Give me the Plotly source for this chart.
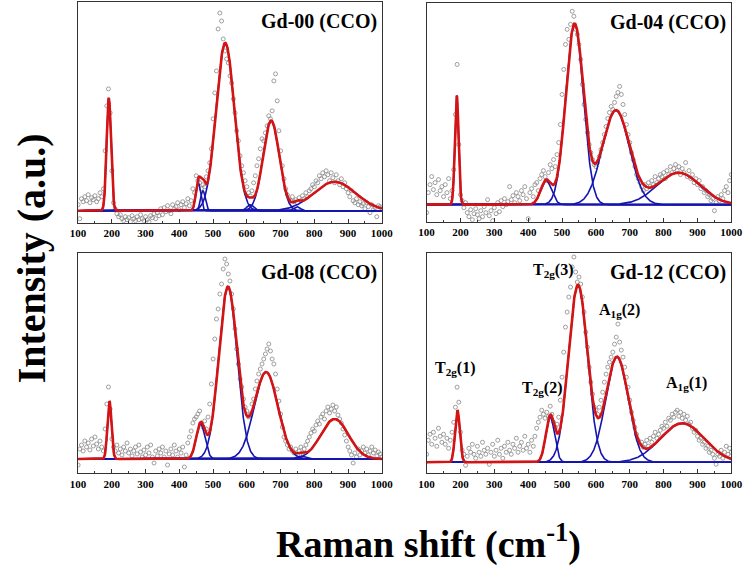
import numpy as np
import plotly.graph_objects as go

# ---------------- data ----------------
shift_start, shift_step = 100, 5          # Raman shift sampling of measured points (cm-1)

gd00_obs = [6, -8, 12, 9, 14, 10, 16, 8, 13, 11,
            15, 9, 12, 18, 14, 22, 60, 105, 122, 98,
            40, 8, 2, -3, -6, -4, -8, -10, -6, -9,
            -7, -11, -5, -8, -10, -6, -9, -4, -8, -10,
            -6, -9, -11, -5, -7, -3, -8, -2, -5, 2,
            -4, 3, -1, 5, 0, -3, 6, 2, 4, 8,
            1, 6, 9, 3, 7, 12, 5, 10, 22, 18,
            35, 30, 28, 22, 26, 24, 34, 40, 48, 62,
            92, 118, 140, 182, 198, 190, 172, 160, 152, 148,
            135, 128, 112, 98, 80, 70, 55, 45, 38, 30,
            24, 18, 15, 20, 28, 35, 45, 52, 62, 72,
            70, 78, 85, 95, 92, 100, 130, 137, 110, 80,
            60, 45, 32, 22, 16, 12, 10, 14, 9, 11,
            8, 13, 10, 15, 12, 18, 14, 20, 22, 26,
            24, 30, 28, 35, 32, 38, 34, 40, 36, 30,
            38, 33, 28, 36, 30, 26, 32, 24, 28, 22,
            18, 14, 20, 10, 8, 12, 6, 9, 5, 7,
            2, 8, 4, -2, 6, 1, 3, -6, 5, 4,
            2]

gd04_obs = [-8, 12, 20, 28, 15, 22, 10, 25, 14, 18,
            8, 20, 12, 26, 6, 14, 35, 90, 140, 60,
            10, 4, -3, 2, -8, -12, -5, -15, -9, -4,
            -10, -14, -6, -12, -2, -8, 5, -11, -6, -16,
            -3, -9, 2, -7, 4, -2, 6, 0, 3, 18,
            5, 9, 2, 12, 8, 4, 14, 10, 18, 6,
            -14, 12, 16, 8, 20, 22, 14, 26, 30, 34,
            28, 24, 32, 40, 36, 45, 38, 50, 62, 80,
            110, 135, 160, 175, 165, 180, 193, 188, 175, 170,
            160, 145, 120, 100, 85, 72, 60, 52, 45, 40,
            38, 42, 48, 55, 62, 70, 78, 86, 92, 98,
            95, 102, 108, 112, 118, 110, 100, 90, 80, 70,
            62, 52, 45, 38, 30, 26, 22, 18, 14, 20,
            16, 22, 18, 24, 20, 28, 22, 26, 30, 28,
            32, 26, 34, 30, 38, 32, 36, 40, 34, 38,
            30, 36, 32, 42, 28, 34, 26, 30, 22, 26,
            20, 24, 16, 18, 12, 14, 8, 10, 4, 6,
            -6, 2, 8, 4, 10, 6, 14, 18, 12, 24,
            30]

gd08_obs = [-6, 10, 14, 8, 18, 12, 16, 9, 20, 13,
            22, 15, 10, 18, 12, 8, 30, 55, 72, 50,
            20, 12, 8, 14, 6, 10, 4, 12, 8, 16,
            6, 10, 3, 8, 12, 5, 14, 7, 2, 9,
            4, 12, 6, 14, 2, -4, 8, 3, 10, 6,
            12, 2, 8, -6, 5, 10, 4, 14, 8, 2,
            10, 6, 12, -8, 4, 16, 22, 28, 36, 40,
            42, 45, 48, 36, 32, 38, 30, 42, 55, 75,
            100, 120, 140, 150, 165, 175, 190, 200, 195, 185,
            178, 165, 150, 130, 110, 95, 80, 72, 60, 52,
            48, 42, 45, 55, 60, 70, 78, 85, 90, 95,
            100, 105, 110, 115, 108, 100, 95, 85, 70, 58,
            45, 32, 22, 18, 14, 10, 12, 8, 6, 10,
            4, 8, 12, 6, 10, 14, 18, 22, 26, 30,
            28, 34, 38, 35, 42, 45, 40, 48, 52, 46,
            50, 54, 48, 52, 44, 40, 36, 30, 24, 18,
            12, 8, 4, -4, 6, 2, 10, 4, 8, 12,
            6, 10, 4, 8, 12, 6, 9, 3, 7, 5,
            2]

gd12_obs = [8, 22, 28, 18, 30, 24, 16, 34, 26, 20,
            28, 18, 24, 14, 22, 30, 40, 55, 75, 60,
            30, 12, 8, -3, 6, 14, 10, 18, 8, 4,
            16, 10, 6, 20, 12, 8, 14, -2, 10, 18,
            6, 12, 22, 8, 14, 4, 16, 10, 20, 12,
            8, 18, 14, 24, 10, 16, 20, 12, 26, 14,
            18, 10, 22, 16, 26, 34, 40, 45, 52, 48,
            44, 50, 46, 56, 48, 40, 35, 38, 45, 62,
            85, 110, 135, 150, 165, 175, 195, 205, 190, 180,
            185, 178, 165, 150, 130, 115, 95, 80, 68, 55,
            52, 48, 55, 62, 70, 80, 88, 95, 100, 105,
            110, 118, 125, 138, 120, 112, 105, 95, 85, 75,
            62, 50, 42, 35, 28, 22, 18, 20, 15, 18,
            22, 16, 24, 20, 26, 30, 24, 28, 32, 36,
            34, 40, 36, 44, 42, 48, 45, 50, 52, 46,
            50, 44, 48, 42, 46, 38, 40, 34, 30, 32,
            26, 22, 24, 18, 20, 14, 16, 10, 12, 8,
            4, -2, 8, 6, 12, 4, 10, 16, 8, 14,
            10]

# fitted Gaussian components: centre (cm-1), height, sigma (cm-1)
gd00_centres = [191, 456, 470, 536, 610, 672, 748, 860]
gd00_heights = [113, 28, 20, 168, 6, 90, 4, 29]
gd00_sigmas  = [6.5, 7, 7, 27, 10, 24, 10, 62]

gd04_centres = [189, 453, 537, 659, 844]
gd04_heights = [109, 24, 180, 94, 32]
gd04_sigmas  = [5.5, 16, 26, 40, 63]

gd08_centres = [193, 463, 544, 657, 760, 860]
gd08_heights = [58, 35, 172, 87, 3, 40]
gd08_sigmas  = [6, 13, 27, 35, 12, 41]

gd12_centres = [191, 465, 547, 662, 855]
gd12_heights = [52, 45, 177, 105, 39]
gd12_sigmas  = [7, 13, 28, 33, 65]

panel_titles = ["Gd-00 (CCO)", "Gd-04 (CCO)", "Gd-08 (CCO)", "Gd-12 (CCO)"]
y_ranges = [[-12, 209], [-17, 201], [-14.3, 205.7], [-11, 209]]

mode_labels = ["T<sub>2g</sub>(1)", "T<sub>2g</sub>(2)", "T<sub>2g</sub>(3)",
               "A<sub>1g</sub>(2)", "A<sub>1g</sub>(1)"]
mode_label_x = [186, 441, 474, 671, 868]
mode_label_y = [94, 74, 192, 152, 79]

tick_vals = [100, 200, 300, 400, 500, 600, 700, 800, 900, 1000]

# ---------------- figure ----------------
FONT = "Liberation Serif"
RED = "rgb(212,20,20)"
BLUE = "rgb(20,20,175)"

panels = [
    (gd00_obs, gd00_centres, gd00_heights, gd00_sigmas),
    (gd04_obs, gd04_centres, gd04_heights, gd04_sigmas),
    (gd08_obs, gd08_centres, gd08_heights, gd08_sigmas),
    (gd12_obs, gd12_centres, gd12_heights, gd12_sigmas),
]

W, H = 756, 567
xdoms = [[72 / W, 384 / W], [430 / W, 743 / W], [72 / W, 384 / W], [430 / W, 743 / W]]
ydoms = [[1 - 222.7 / H, 1 - 2 / H], [1 - 221.7 / H, 1 - 3.3 / H],
         [1 - 473.3 / H, 1 - 253.3 / H], [1 - 473.3 / H, 1 - 253 / H]]

fig = go.Figure()
xfine = np.arange(100, 1001, 1.0)

for i, (obs, cen, hei, sig) in enumerate(panels):
    ax = "" if i == 0 else str(i + 1)
    xs = [shift_start + shift_step * k for k in range(len(obs))]
    fig.add_trace(go.Scatter(
        x=xs, y=obs, mode="markers", xaxis="x" + ax, yaxis="y" + ax,
        marker=dict(symbol="circle-open", size=4, color="rgb(135,135,135)",
                    line=dict(width=0.8, color="rgb(135,135,135)")),
        showlegend=False, hoverinfo="skip"))
    total = np.zeros_like(xfine)
    for c, h, s in zip(cen, hei, sig):
        comp = h * np.exp(-((xfine - c) ** 2) / (2 * s * s))
        total += comp
        fig.add_trace(go.Scatter(
            x=xfine, y=comp, mode="lines", xaxis="x" + ax, yaxis="y" + ax,
            line=dict(color=BLUE, width=1.6), showlegend=False, hoverinfo="skip"))
    fig.add_trace(go.Scatter(
        x=xfine, y=total, mode="lines", xaxis="x" + ax, yaxis="y" + ax,
        line=dict(color=RED, width=2.6), showlegend=False, hoverinfo="skip"))

    fig.layout["xaxis" + ax] = dict(
        domain=xdoms[i], range=[100, 1000], anchor="y" + ax,
        tickvals=tick_vals, ticktext=[str(t) for t in tick_vals],
        ticks="inside", ticklen=4, tickwidth=1, tickcolor="#333",
        minor=dict(tickvals=[150, 250, 350, 450, 550, 650, 750, 850, 950],
                   ticks="inside", ticklen=2, tickcolor="#333"),
        showline=True, linecolor="#333", linewidth=1, mirror=True,
        showgrid=False, zeroline=False,
        tickfont=dict(family=FONT, size=11, color="black", weight="bold"))
    fig.layout["yaxis" + ax] = dict(
        domain=ydoms[i], range=y_ranges[i], anchor="x" + ax,
        showticklabels=False, ticks="", showline=True, linecolor="#333",
        linewidth=1, mirror=True, showgrid=False, zeroline=False)

    fig.add_annotation(
        text=panel_titles[i], xref="x" + ax + " domain", yref="y" + ax + " domain",
        x=0.99, y=0.975, xanchor="right", yanchor="top", showarrow=False,
        font=dict(family=FONT, size=20, color="black", weight="bold"))

for t, lx, ly in zip(mode_labels, mode_label_x, mode_label_y):
    fig.add_annotation(text=t, x=lx, y=ly, xref="x4", yref="y4", showarrow=False,
                       xanchor="center", yanchor="middle",
                       font=dict(family=FONT, size=16, color="black", weight="bold"))

fig.add_annotation(text="Intensity (a.u.)", xref="paper", yref="paper",
                   x=24 / W, y=1 - 258 / H, xanchor="center", yanchor="middle",
                   textangle=-90, showarrow=False,
                   font=dict(family=FONT, size=40, color="black", weight="bold"))
fig.add_annotation(text="Raman shift (cm<sup>-1</sup>)", xref="paper", yref="paper",
                   x=432 / W, y=1 - 541 / H, xanchor="center", yanchor="middle",
                   showarrow=False,
                   font=dict(family=FONT, size=38, color="black", weight="bold"))

fig.update_layout(width=W, height=H, margin=dict(l=0, r=0, t=0, b=0),
                  paper_bgcolor="white", plot_bgcolor="white")

fig.write_html("out.html", config={"displayModeBar": False},
               post_script="document.body.style.margin='0px';")
